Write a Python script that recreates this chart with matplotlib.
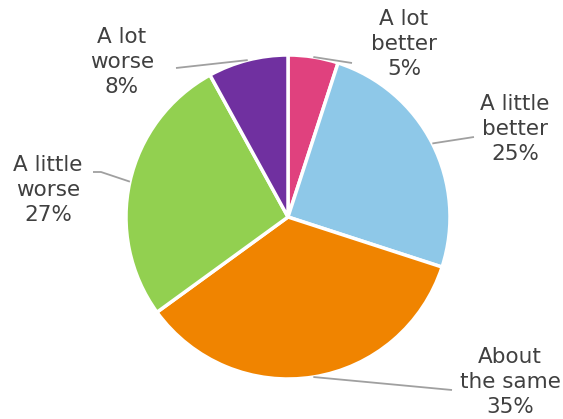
import numpy as np
import matplotlib.pyplot as plt

labels = ['A lot\nbetter', 'A little\nbetter', 'About\nthe same', 'A little\nworse', 'A lot\nworse']
values = [5, 25, 35, 27, 8]
colors = ['#E0417E', '#8EC8E8', '#F08400', '#92D050', '#7030A0']

W, H = 563, 419
# label centres and elbow points, in pixels from top-left
label_pos = [(404, 44), (515, 129), (510, 382), (48, 190), (122, 62)]
elbows = [[(352, 63)], [(474, 137)], [(452, 390)], [(101, 172), (93, 172)], [(176, 68)]]

fig = plt.figure(figsize=(W / 100, H / 100), dpi=100)
ax = fig.add_axes([0, 0, 1, 1])
ax.set_xlim(0, W)
ax.set_ylim(0, H)
ax.set_aspect('equal')
ax.axis('off')

cx, cy, r = 288, H - 217, 162
wedges, _ = ax.pie(values, colors=colors, startangle=90, counterclock=False,
                   center=(cx, cy), radius=r,
                   wedgeprops=dict(edgecolor='white', linewidth=2.5))
ax.set_xlim(0, W)
ax.set_ylim(0, H)

for w, lab, val, pos, elb in zip(wedges, labels, values, label_pos, elbows):
    ang = np.deg2rad((w.theta1 + w.theta2) / 2)
    x0 = cx + r * np.cos(ang)
    y0 = cy + r * np.sin(ang)
    xs = [x0] + [p[0] for p in elb]
    ys = [y0] + [H - p[1] for p in elb]
    ax.plot(xs, ys, color='#A0A0A0', lw=1.3, solid_capstyle='butt')
    ax.text(pos[0], H - pos[1], f'{lab}\n{val}%', ha='center', va='center',
            fontsize=15.5, color='#404040', family='DejaVu Sans', linespacing=1.32)

fig.savefig('out.png', dpi=100)
